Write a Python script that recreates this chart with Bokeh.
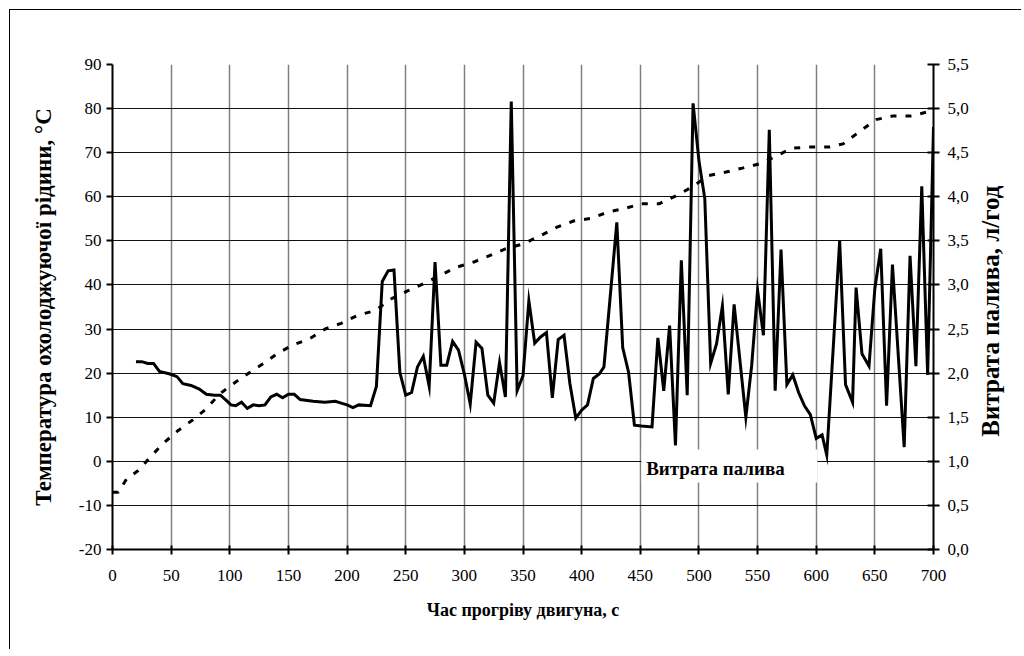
import math
from bokeh.plotting import figure
from bokeh.models import (LinearAxis, Range1d, FixedTicker, BoxAnnotation, Label)
from bokeh.embed import file_html
from bokeh.resources import INLINE

# ---- data ----
temp_t = [0, 5, 12, 22, 32, 43, 56, 68, 80, 91, 103, 115, 128, 141, 153, 168, 182, 195,
          209, 224, 238, 252, 266, 279, 293, 308, 322, 335, 350, 365, 379, 393, 408, 422,
          436, 451, 466, 481, 494, 508, 523, 537, 552, 565, 579, 595, 611, 623, 638, 651,
          665, 680, 696, 700]
temp_v = [-7, -7, -4, -2.1, 0.9, 4.0, 7.0, 9.3, 11.9, 15.2, 17.6, 19.8, 22.1, 24.5, 26.3,
          27.8, 30.1, 31.3, 33.1, 34.2, 36.9, 38.7, 40.4, 42.1, 44.0, 45.2, 46.7, 48.2,
          49.3, 51.2, 53.1, 54.5, 55.1, 56.5, 57.3, 58.4, 58.4, 60.3, 62.2, 64.8, 65.6,
          66.5, 67.5, 69.1, 71.0, 71.3, 71.3, 72.0, 75.0, 77.5, 78.3, 78.3, 79.3, 79.5]

fuel_t = [20, 25, 30, 35, 40, 49, 55, 60, 67, 74, 80, 87, 92, 97, 101, 105, 110, 115, 120,
          125, 130, 135, 140, 145, 150, 155, 160, 171, 181, 190, 195, 200, 205, 210, 220,
          225, 230, 235, 240, 245, 250, 255, 260, 265, 270, 275, 280, 285, 290, 295, 300,
          305, 310, 315, 320, 325, 330, 335, 340, 345, 350, 355, 360, 365, 370, 375, 380,
          385, 390, 395, 400, 405, 410, 415, 419, 430, 435, 440, 445, 451, 460, 465, 470,
          475, 480, 485, 490, 495, 500, 505, 510, 515, 520, 525, 530, 535, 540, 545, 550,
          555, 560, 565, 570, 575, 580, 585, 590, 595, 600, 605, 609, 620, 625, 631, 634,
          639, 645, 650, 655, 660, 665, 675, 680, 685, 690, 695, 700]
fuel_v = [2.13, 2.13, 2.11, 2.11, 2.02, 1.99, 1.96, 1.88, 1.86, 1.82, 1.76, 1.75, 1.75,
          1.69, 1.64, 1.63, 1.67, 1.60, 1.64, 1.63, 1.64, 1.73, 1.76, 1.72, 1.76, 1.76,
          1.70, 1.68, 1.67, 1.68, 1.66, 1.64, 1.61, 1.64, 1.63, 1.85, 3.04, 3.16, 3.17,
          2.01, 1.75, 1.78, 2.07, 2.19, 1.85, 3.26, 2.09, 2.09, 2.36, 2.26, 1.99, 1.65,
          2.35, 2.28, 1.75, 1.66, 2.12, 1.73, 5.08, 1.80, 1.97, 2.82, 2.34, 2.41, 2.46,
          1.72, 2.38, 2.43, 1.88, 1.49, 1.58, 1.64, 1.94, 1.99, 2.07, 3.71, 2.29, 2.01,
          1.41, 1.40, 1.39, 2.40, 1.80, 2.54, 1.18, 3.28, 1.75, 5.06, 4.41, 3.98, 2.11,
          2.33, 2.76, 1.76, 2.78, 2.14, 1.50, 2.09, 2.94, 2.43, 4.76, 1.80, 3.40, 1.87,
          1.98, 1.78, 1.63, 1.53, 1.26, 1.30, 1.07, 3.50, 1.87, 1.67, 2.97, 2.22, 2.08,
          2.96, 3.41, 1.63, 3.23, 1.16, 3.33, 2.08, 4.12, 1.98, 4.79]

x_ticks = list(range(0, 701, 50))
y_ticks = list(range(-20, 91, 10))
y_tick_labels = [str(v) for v in y_ticks]
fuel_ticks = [0, 0.5, 1, 1.5, 2, 2.5, 3, 3.5, 4, 4.5, 5, 5.5]
fuel_tick_labels = ["0,0", "0,5", "1,0", "1,5", "2,0", "2,5", "3,0", "3,5", "4,0", "4,5", "5,0", "5,5"]

x_title = "Час прогріву двигуна, с"
y_title = "Температура охолоджуючої рідини, °C"
y2_title = "Витрата палива, л/год"
note_text = "Витрата палива"

FONT = "'Liberation Serif', 'Times New Roman', serif"

p = figure(width=1012, height=640, output_backend="svg", toolbar_location=None,
           x_range=Range1d(0, 700), y_range=Range1d(-20, 90),
           min_border_left=102, min_border_right=89, min_border_top=54, min_border_bottom=101)
p.styles = {"margin-left": "9px", "margin-top": "9px",
            "border-left": "1px solid #000", "border-top": "1px solid #000"}
p.outline_line_color = None
p.background_fill_color = "white"
p.border_fill_color = "white"

p.extra_y_ranges = {"fuel": Range1d(0, 5.5)}

# grids
p.xgrid.ticker = FixedTicker(ticks=x_ticks)
p.ygrid.ticker = FixedTicker(ticks=y_ticks)
p.xgrid.grid_line_color = "#808080"
p.xgrid.grid_line_width = 1.5
p.ygrid.grid_line_color = "#111111"
p.ygrid.grid_line_width = 1

def style_axis(ax, label_size):
    ax.axis_line_color = "black"
    ax.axis_line_width = 2
    ax.major_tick_line_color = "black"
    ax.major_tick_line_width = 2
    ax.minor_tick_line_color = None
    ax.major_label_text_font = FONT
    ax.major_label_text_font_size = "17px"
    ax.major_label_text_color = "black"
    ax.axis_label_text_font = FONT
    ax.axis_label_text_font_style = "bold"
    ax.axis_label_text_font_size = label_size
    ax.axis_label_text_color = "black"

xa = p.xaxis[0]
style_axis(xa, "18px")
xa.ticker = FixedTicker(ticks=x_ticks)
xa.major_tick_in = 4
xa.major_tick_out = 5
xa.major_label_standoff = 15
xa.axis_label = x_title
xa.axis_label_standoff = 16

ya = p.yaxis[0]
style_axis(ya, "23px")
ya.ticker = FixedTicker(ticks=y_ticks)
ya.major_label_overrides = {t: l for t, l in zip(y_ticks, y_tick_labels)}
ya.major_tick_in = 0
ya.major_tick_out = 6
ya.major_label_standoff = 5
ya.axis_label = y_title
ya.axis_label_standoff = 20

ra = LinearAxis(y_range_name="fuel")
style_axis(ra, "24px")
ra.ticker = FixedTicker(ticks=fuel_ticks)
ra.major_label_overrides = {t: l for t, l in zip(fuel_ticks, fuel_tick_labels)}
ra.major_tick_in = 6
ra.major_tick_out = 6
ra.major_label_standoff = 8
p.add_layout(ra, "right")

# right-hand title: an unlined axis carrying one rotated label that reads upward
title_start = 5.6  # left-axis value where the upward-reading title begins
ta = LinearAxis()
ta.ticker = FixedTicker(ticks=[title_start])
ta.major_label_overrides = {title_start: y2_title}
ta.major_label_orientation = math.pi / 2
ta.major_label_text_font = FONT
ta.major_label_text_font_style = "bold"
ta.major_label_text_font_size = "25px"
ta.major_label_text_color = "black"
ta.major_label_standoff = 19
ta.axis_line_color = None
ta.major_tick_line_color = None
ta.minor_tick_line_color = None
ta.major_tick_in = 0
ta.major_tick_out = 0
p.add_layout(ta, "right")

# series
p.line(temp_t, temp_v, line_color="black", line_width=3, line_dash="6 9")
p.line(fuel_t, fuel_v, y_range_name="fuel", line_color="black", line_width=3,
       line_join="miter")

# white note box with text
p.add_layout(BoxAnnotation(left=451, right=601, bottom=-4.8, top=2.7,
                           fill_color="white", fill_alpha=1.0, line_alpha=0))
p.add_layout(Label(x=455, y=-1.6, text=note_text, text_font=FONT, text_font_style="bold",
                   text_font_size="19px", text_baseline="middle", text_color="black"))

open("out.html", "w").write(file_html(p, INLINE))
